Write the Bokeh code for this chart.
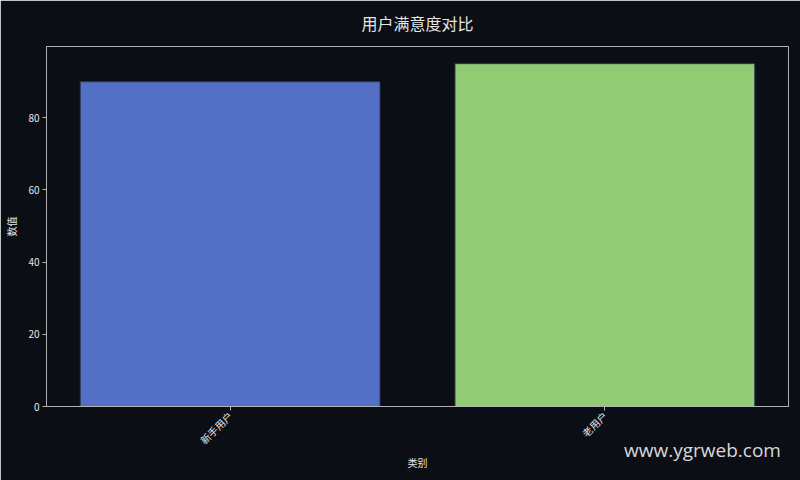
import math
from bokeh.plotting import figure
from bokeh.models import Range1d, FixedTicker, LinearAxis, ColumnDataSource
from bokeh.embed import file_html
from bokeh.resources import INLINE

title_text = "用户满意度对比"
watermark = "www.ygrweb.com"
categories = ["新手用户", "老用户"]
values = [90, 95]
colors = ["#5470c6", "#91cc75"]
y_ticks = [0, 20, 40, 60, 80]

BG = "#0b0e15"
FG = "#e6e6e6"
AX = "#b0b0b0"
CJK = "Noto Sans CJK SC"

idx = list(range(len(categories)))
src = ColumnDataSource(dict(x=idx, top=values, color=colors, name=categories))

p = figure(width=800, height=480, output_backend="svg", toolbar_location=None,
           x_range=Range1d(-0.49, len(categories) - 1 + 0.49),
           y_range=Range1d(0, max(values) * 1.05),
           title=title_text,
           min_border_left=46, min_border_right=12, min_border_top=46, min_border_bottom=74)

p.vbar(x="x", top="top", width=0.8, fill_color="color", line_color="#2b3550",
       line_width=1, source=src)

p.background_fill_color = BG
p.border_fill_color = BG
p.outline_line_color = AX
p.outline_line_width = 1
p.grid.visible = False

p.title.text_font = CJK
p.title.text_font_size = "16px"
p.title.text_font_style = "normal"
p.title.text_color = FG
p.title.align = "center"
p.title.vertical_align = "top"
p.title.offset = 0
p.title.standoff = 20

p.xaxis.ticker = FixedTicker(ticks=idx)
p.xaxis.major_label_overrides = {i: c for i, c in zip(idx, categories)}
p.xaxis.major_label_orientation = math.pi / 4
p.xaxis.axis_label = "类别"
p.yaxis.ticker = FixedTicker(ticks=y_ticks)
p.yaxis.axis_label = "数值"

for ax in (p.xaxis, p.yaxis):
    ax.axis_line_color = AX
    ax.major_tick_line_color = AX
    ax.minor_tick_line_color = None
    ax.major_tick_in = 0
    ax.major_tick_out = 4
    ax.major_label_text_color = FG
    ax.major_label_text_font = CJK
    ax.major_label_text_font_size = "10px"
    ax.axis_label_text_color = FG
    ax.axis_label_text_font = CJK
    ax.axis_label_text_font_size = "10px"
    ax.axis_label_text_font_style = "normal"
    ax.major_label_standoff = 3
p.yaxis.axis_label_standoff = 6
p.xaxis.axis_label_standoff = 0

# watermark: label of a bare axis, pushed to the lower-right with leading em spaces
wm = LinearAxis(ticker=FixedTicker(ticks=[]),
                axis_line_color=None, major_tick_line_color=None,
                minor_tick_line_color=None, major_tick_out=0, major_tick_in=0,
                major_label_standoff=0, major_label_text_font_size="0px",
                axis_label="\u2003" * 30 + watermark, axis_label_standoff=-37,
                axis_label_text_font="Open Sans", axis_label_text_font_size="19px",
                axis_label_text_font_style="normal", axis_label_text_color="#d8d8d8")
p.add_layout(wm, "below")

html = file_html(p, INLINE)
html = html.replace("<body>", '<body style="background:%s;">' % BG, 1)
open("out.html", "w").write(html)
